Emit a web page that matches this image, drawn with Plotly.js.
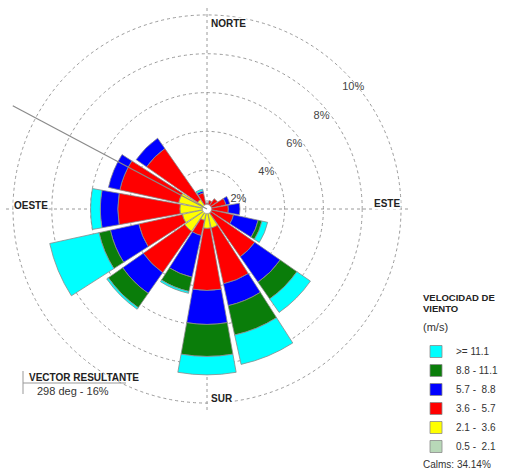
<!DOCTYPE html>
<html>
<head>
<meta charset="utf-8">
<script src="https://cdn.plot.ly/plotly-3.0.1.min.js"></script>
<style>html,body{margin:0;padding:0;background:#fff;}#chart{width:507px;height:470px;}</style>
</head>
<body>
<div id="chart"></div>
<script>
// Direction sectors (compass degrees)
const directions = ['N','NNE','NE','ENE','E','ESE','SE','SSE','S','SSW','SW','WSW','W','WNW','NW','NNW'];
const theta = [0,22.5,45,67.5,90,112.5,135,157.5,180,202.5,225,247.5,270,292.5,315,337.5];

// Frequency (%) per speed class, per direction
const speed_05_21  = [0.05,0.05,0.05,0.05,0.05,0.05,0.05,0.05,0.05,0.05,0.05,0.05,0.05,0.05,0.05,0.05];
const speed_21_36  = [0.10,0.10,0.10,0.15,0.15,0.15,0.20,0.95,0.95,0.55,1.35,1.25,1.35,1.45,0.55,0.15];
const speed_36_57  = [0.15,0.30,0.50,0.80,0.90,1.20,2.75,2.95,3.20,0.80,2.60,2.30,3.20,3.10,3.20,0.65];
const speed_57_88  = [0.00,0.00,0.00,0.20,0.60,1.30,1.60,1.15,1.75,2.20,1.30,1.50,0.90,0.60,0.65,0.10];
const speed_88_111 = [0.00,0.00,0.00,0.00,0.00,0.20,1.05,1.55,1.65,0.75,0.90,0.60,0.00,0.00,0.00,0.00];
const speed_111    = [0.00,0.00,0.00,0.00,0.00,0.30,0.85,1.55,0.95,0.10,0.10,2.60,0.50,0.00,0.00,0.10];

const classLabels = ['0.5 -  2.1','2.1 -  3.6','3.6 -  5.7','5.7 -  8.8','8.8 - 11.1','>= 11.1'];
const classColors = ['#b8d8b8','#ffff00','#ff0000','#0000ff','#0a7d0a','#00ffff'];
const classValues = [speed_05_21, speed_21_36, speed_36_57, speed_57_88, speed_88_111, speed_111];

const ringValues = [2,4,6,8,10];
const ringLabels = ['2%','4%','6%','8%','10%'];

const vectorDeg = 298;
const vectorPct = 16;
const calmsPct = 34.14;

// ---- layout geometry (pixels) ----
const W = 507, H = 470;
const CX = 207, CY = 209, R10 = 194;      // pixel radius of the 10% ring
const RMAX = 10.5;                          // radial range end
const RD = R10 * RMAX / 10;                 // pixel radius of polar domain
const px = x => x / W;
const py = y => 1 - y / H;

const traces = classValues.map((vals, i) => ({
  type: 'barpolar',
  r: vals,
  theta: theta,
  name: classLabels[i],
  marker: {color: classColors[i], line: {color: '#8a8a8a', width: 0.8}},
  hoverinfo: 'skip'
}));

// ring percentage labels (positioned along a gentle spiral as in the reference)
const ringLabelR = [1.7, 3.6, 5.6, 7.6, 9.8];
const ringLabelTheta = [72, 58, 53.5, 51, 50.3];
traces.push({
  type: 'scatterpolar', mode: 'text',
  r: ringLabelR, theta: ringLabelTheta, text: ringLabels,
  textfont: {family: 'Liberation Sans, Arial, sans-serif', size: 11, color: '#444'},
  showlegend: false, hoverinfo: 'skip', cliponaxis: false
});
// calm circle in the centre
traces.push({
  type: 'scatterpolar', mode: 'markers', r: [0], theta: [0],
  marker: {size: 9, color: '#ffffff', line: {color: '#999', width: 0.6}},
  showlegend: false, hoverinfo: 'skip'
});

// resultant vector line (drawn beyond the rings, like the reference)
const vecLenPx = 220;
const vrad = vectorDeg * Math.PI / 180;
const vx2 = CX + vecLenPx * Math.sin(vrad);
const vy2 = CY - vecLenPx * Math.cos(vrad);

const shapes = [
  {type: 'line', xref: 'paper', yref: 'paper', x0: px(CX), y0: py(CY), x1: px(vx2), y1: py(vy2),
   line: {color: '#8a8a8a', width: 1.2}, layer: 'above'},
  {type: 'line', xref: 'paper', yref: 'paper', x0: px(23), y0: py(383), x1: px(126), y1: py(383),
   line: {color: '#999', width: 1}},
  {type: 'line', xref: 'paper', yref: 'paper', x0: px(23), y0: py(371), x1: px(23), y1: py(394),
   line: {color: '#999', width: 1}}
];

const bold = {family: 'Liberation Sans, Arial, sans-serif', size: 10, color: '#222'};
const reg = {family: 'Liberation Sans, Arial, sans-serif', size: 11, color: '#333'};
const legBold = {family: 'Liberation Sans, Arial, sans-serif', size: 9.5, color: '#222'};

const annotations = [
  {text: '<b>NORTE</b>', x: px(210), y: py(23), xanchor: 'left', yanchor: 'middle', font: bold, bgcolor: '#fff', borderpad: 0},
  {text: '<b>SUR</b>', x: px(210), y: py(398), xanchor: 'left', yanchor: 'middle', font: bold, bgcolor: '#fff', borderpad: 0},
  {text: '<b>ESTE</b>', x: px(401), y: py(204), xanchor: 'right', yanchor: 'middle', font: bold, bgcolor: '#fff', borderpad: 0},
  {text: '<b>OESTE</b>', x: px(13), y: py(205), xanchor: 'left', yanchor: 'middle', font: bold, bgcolor: '#fff', borderpad: 0},
  {text: '<b>VECTOR RESULTANTE</b>', x: px(27), y: py(377), xanchor: 'left', yanchor: 'middle', font: bold},
  {text: vectorDeg + ' deg - ' + vectorPct + '%', x: px(35), y: py(391), xanchor: 'left', yanchor: 'middle', font: reg},
  {text: '<b>VELOCIDAD DE</b>', x: px(421), y: py(297), xanchor: 'left', yanchor: 'middle', font: legBold},
  {text: '<b>VIENTO</b>', x: px(421), y: py(308), xanchor: 'left', yanchor: 'middle', font: legBold},
  {text: '(m/s)', x: px(421), y: py(327), xanchor: 'left', yanchor: 'middle',
   font: {family: 'Liberation Sans, Arial, sans-serif', size: 11, color: '#333'}},
  {text: 'Calms: ' + calmsPct.toFixed(2) + '%', x: px(421), y: py(464), xanchor: 'left', yanchor: 'middle',
   font: {family: 'Liberation Sans, Arial, sans-serif', size: 10, color: '#333'}}
].map(a => Object.assign({xref: 'paper', yref: 'paper', showarrow: false}, a));

const layout = {
  width: W, height: H,
  margin: {l: 0, r: 0, t: 0, b: 0},
  paper_bgcolor: '#fff',
  showlegend: true,
  polar: {
    domain: {x: [px(CX - RD), px(CX + RD)], y: [py(CY + RD), py(CY - RD)]},
    bgcolor: 'rgba(0,0,0,0)',
    barmode: 'stack',
    radialaxis: {
      range: [0, RMAX], tickvals: ringValues, showticklabels: false, ticks: '',
      showline: false, gridcolor: '#9a9a9a', griddash: 'dot', gridwidth: 1
    },
    angularaxis: {
      rotation: 90, direction: 'clockwise', tickvals: [0, 90, 180, 270],
      showticklabels: false, ticks: '', showline: false,
      gridcolor: '#9a9a9a', griddash: 'dot', gridwidth: 1
    }
  },
  legend: {
    x: px(416), y: py(337), xanchor: 'left', yanchor: 'top',
    traceorder: 'reversed',
    font: {family: 'Liberation Sans, Arial, sans-serif', size: 10, color: '#333'},
    itemclick: false, itemdoubleclick: false, tracegroupgap: 2
  },
  shapes: shapes,
  annotations: annotations
};

Plotly.newPlot('chart', traces, layout, {displayModeBar: false, staticPlot: true});
</script>
</body>
</html>
